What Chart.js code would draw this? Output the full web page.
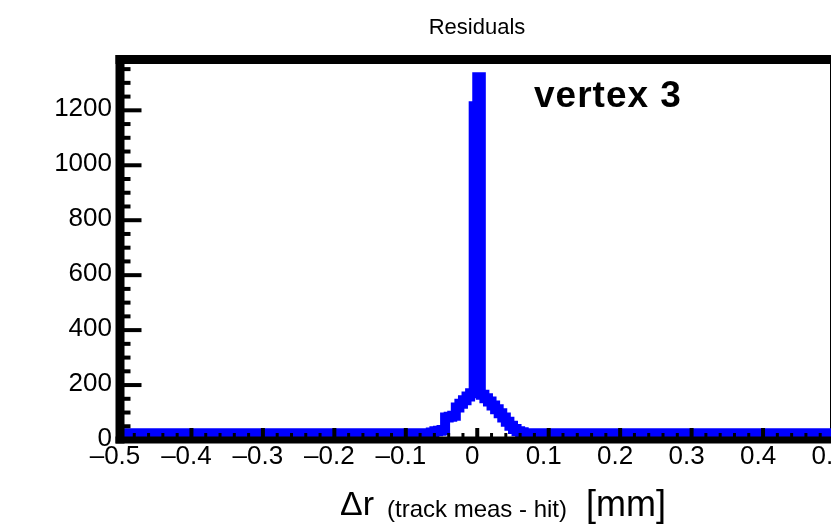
<!DOCTYPE html>
<html lang="en">
<head>
    <meta charset="UTF-8">
    <title>Residuals</title>
    <script src="https://cdn.jsdelivr.net/npm/chart.js"></script>
    <style>
        html, body { margin: 0; padding: 0; background: #fff; overflow: hidden; width: 831px; height: 525px; }
        #chart { position: absolute; left: 0; top: 0; }
    </style>
</head>
<body>
    <canvas id="chart" width="850" height="525"></canvas>

    <script>
        // histogram: 200 bins of 0.005 mm from -0.5 to 0.5
        const xMin = -0.5;
        const binWidth = 0.005;
        const counts = [
            25, 25, 25, 25, 25, 25, 25, 25, 25, 25, 25, 25, 25, 25, 25, 25, 25, 25, 25, 25,
            25, 25, 25, 25, 25, 25, 25, 25, 25, 25, 25, 25, 25, 25, 25, 25, 25, 25, 25, 25,
            25, 25, 25, 25, 25, 25, 25, 25, 25, 25, 25, 25, 25, 25, 25, 25, 25, 25, 25, 25,
            25, 25, 25, 25, 25, 25, 25, 25, 25, 25, 25, 25, 25, 25, 25, 25, 25, 25, 25, 25,
            25, 25, 25, 25, 25, 25, 25, 27, 32, 34, 36, 82, 85, 88, 118, 132, 145, 158, 170, 1215,
            1320, 165, 152, 140, 126, 112, 97, 82, 66, 52, 40, 32, 28, 25, 25, 25, 25, 25, 25, 25,
            25, 25, 25, 25, 25, 25, 25, 25, 25, 25, 25, 25, 25, 25, 25, 25, 25, 25, 25, 25,
            25, 25, 25, 25, 25, 25, 25, 25, 25, 25, 25, 25, 25, 25, 25, 25, 25, 25, 25, 25,
            25, 25, 25, 25, 25, 25, 25, 25, 25, 25, 25, 25, 25, 25, 25, 25, 25, 25, 25, 25,
            25, 25, 25, 25, 25, 25, 25, 25, 25, 25, 25, 25, 25, 25, 25, 25, 25, 25, 25, 25
        ];

        const xTickValues = [-0.5, -0.4, -0.3, -0.2, -0.1, 0, 0.1, 0.2, 0.3, 0.4, 0.5];
        const xTickLabels = ['\u20130.5', '\u20130.4', '\u20130.3', '\u20130.2', '\u20130.1', '0', '0.1', '0.2', '0.3', '0.4', '0.5'];
        const yTickValues = [0, 200, 400, 600, 800, 1000, 1200];
        const yTickLabels = ['0', '200', '400', '600', '800', '1000', '1200'];
        const yMax = 1385;

        // step outline: one point per bin low edge, plus the upper edge of the last bin
        const points = counts.map((c, i) => ({ x: +(xMin + i * binWidth).toFixed(4), y: c }));
        points.push({ x: 0.5, y: counts[counts.length - 1] });

        function seg(ctx, x1, y1, x2, y2) {
            ctx.beginPath();
            ctx.moveTo(x1, y1);
            ctx.lineTo(x2, y2);
            ctx.stroke();
        }

        const framePlugin = {
            id: 'rootFrame',
            beforeDatasetsDraw(chart) {
                const { ctx, chartArea: a } = chart;
                ctx.save();
                ctx.strokeStyle = '#000';
                ctx.lineWidth = 9;
                seg(ctx, a.right, a.top, a.right, a.bottom);
                ctx.restore();
            },
            afterDatasetsDraw(chart) {
                const { ctx, chartArea: a, scales: { x, y } } = chart;
                ctx.save();
                ctx.strokeStyle = '#000';
                ctx.lineCap = 'butt';

                // x ticks, drawn inside the frame
                ctx.lineWidth = 3;
                for (let k = 1; k < 50; k++) {
                    if (k % 5 === 0) continue;
                    const px = x.getPixelForValue(-0.5 + k * 0.02);
                    seg(ctx, px, a.bottom, px, a.bottom - 7);
                }
                ctx.lineWidth = 4;
                xTickValues.forEach(v => {
                    const px = x.getPixelForValue(v);
                    seg(ctx, px, a.bottom, px, a.bottom - 12);
                });

                // y ticks
                for (let v = 50; v < yMax; v += 50) {
                    const py = y.getPixelForValue(v);
                    seg(ctx, a.left, py, a.left + (v % 200 === 0 ? 21.5 : 10.5), py);
                }

                // axes and top of frame
                ctx.lineWidth = 9;
                seg(ctx, a.left - 4.5, a.top, a.right, a.top);
                seg(ctx, a.left, a.top - 4.5, a.left, a.bottom + 3.5);
                ctx.lineWidth = 7;
                seg(ctx, a.left - 4.5, a.bottom, a.right, a.bottom);
                ctx.restore();
            },
            afterDraw(chart) {
                const ctx = chart.ctx;
                ctx.save();
                ctx.fillStyle = '#000';
                ctx.textBaseline = 'alphabetic';

                ctx.font = '22px "Liberation Sans", Arial, sans-serif';
                ctx.textAlign = 'center';
                ctx.fillText('Residuals', 477, 34);

                ctx.textAlign = 'left';
                ctx.font = 'bold 37px "Liberation Sans", Arial, sans-serif';
                ctx.letterSpacing = '1px';
                ctx.fillText('vertex 3', 534, 107);
                ctx.letterSpacing = '0px';

                ctx.font = '34px "Liberation Sans", Arial, sans-serif';
                ctx.fillText('\u0394r', 340, 515);
                ctx.font = '24px "Liberation Sans", Arial, sans-serif';
                ctx.fillText('(track meas - hit)', 387, 517);
                ctx.font = '36px "Liberation Sans", Arial, sans-serif';
                ctx.fillText('[mm]', 586, 516);
                ctx.restore();
            }
        };

        const tickFont = { family: '"Liberation Sans", Arial, sans-serif', size: 26 };

        const ctx = document.getElementById('chart').getContext('2d');
        const chart = new Chart(ctx, {
            type: 'line',
            data: {
                datasets: [{
                    label: 'Residuals',
                    data: points,
                    stepped: 'before',
                    borderColor: '#0000ff',
                    borderWidth: 10,
                    borderJoinStyle: 'miter',
                    pointRadius: 0,
                    fill: false,
                    clip: 0
                }]
            },
            options: {
                responsive: false,
                animation: false,
                layout: { padding: { left: 0, top: 59.5, right: 15.5, bottom: 0 } },
                plugins: {
                    legend: { display: false },
                    tooltip: { enabled: false }
                },
                scales: {
                    x: {
                        type: 'linear',
                        min: -0.5,
                        max: 0.5,
                        grid: { display: false, drawTicks: false, tickLength: 0 },
                        border: { display: false },
                        afterBuildTicks: s => { s.ticks = xTickValues.map(v => ({ value: v })); },
                        afterFit: s => { s.height = 85; s.paddingLeft = 0; s.paddingRight = 0; },
                        ticks: {
                            autoSkip: false,
                            maxRotation: 0,
                            color: '#000',
                            font: tickFont,
                            padding: 1,
                            labelOffset: -5,
                            callback: (v, i) => xTickLabels[i]
                        }
                    },
                    y: {
                        type: 'linear',
                        min: 0,
                        max: yMax,
                        grid: { display: false, drawTicks: false, tickLength: 0 },
                        border: { display: false },
                        afterBuildTicks: s => { s.ticks = yTickValues.map(v => ({ value: v })); },
                        afterFit: s => { s.width = 120; },
                        ticks: {
                            autoSkip: false,
                            color: '#000',
                            font: tickFont,
                            padding: 8,
                            labelOffset: -1,
                            callback: (v, i) => yTickLabels[i]
                        }
                    }
                }
            },
            plugins: [framePlugin]
        });
    </script>
</body>
</html>
